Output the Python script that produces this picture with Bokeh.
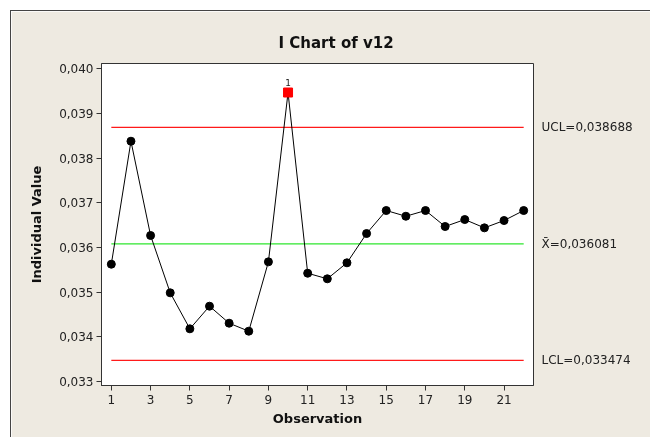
from bokeh.plotting import figure
from bokeh.models import Range1d, FixedTicker, CustomJSTickFormatter, Label, LinearAxis
from bokeh.embed import file_html
from bokeh.resources import INLINE

observations = list(range(1, 23))
values = [0.035626, 0.038380, 0.036269, 0.034985, 0.034179, 0.034686, 0.034305, 0.034126,
          0.035679, 0.039470, 0.035424, 0.035299, 0.035657, 0.036313, 0.036828, 0.036700,
          0.036828, 0.036470, 0.036626, 0.036440, 0.036604, 0.036828]
ucl = 0.038688
center = 0.036081
lcl = 0.033474
limit_names = ["UCL", "X\u0304", "LCL"]
limit_values = [ucl, center, lcl]
x_ticks = [1, 3, 5, 7, 9, 11, 13, 15, 17, 19, 21]
y_ticks = [0.033, 0.034, 0.035, 0.036, 0.037, 0.038, 0.039, 0.040]
title_text = "I Chart of v12"
x_label = "Observation"
y_label = "Individual Value"

FONT = "DejaVu Sans"
BEIGE = "#EEEAE1"

p = figure(width=640, height=427, output_backend="svg", toolbar_location=None,
           x_range=Range1d(0.5, 22.5), y_range=Range1d(0.03291, 0.04012),
           min_border_left=90, min_border_right=118, min_border_top=52, min_border_bottom=53)
p.styles = {"position": "fixed", "left": "10px", "top": "10px",
            "border-left": "1px solid #444444", "border-top": "1px solid #444444"}
p.border_fill_color = BEIGE
p.background_fill_color = "white"
p.outline_line_color = "#333333"
p.outline_line_width = 1
p.xgrid.visible = False
p.ygrid.visible = False

p.title.text = title_text
p.title.align = "left"
p.title.offset = 177
p.title.text_font = FONT
p.title.text_font_size = "15px"
p.title.text_font_style = "bold"
p.title.text_color = "#111111"
p.title.standoff = 24

p.add_layout(LinearAxis(), "right")

for ax in (p.xaxis[0], p.yaxis[0]):
    ax.axis_line_color = "#333333"
    ax.major_tick_line_color = "#333333"
    ax.minor_tick_line_color = None
    ax.major_tick_out = 5
    ax.major_tick_in = 0
    ax.major_label_text_font = FONT
    ax.major_label_text_font_size = "12px"
    ax.major_label_text_color = "#222222"
    ax.axis_label_text_font = FONT
    ax.axis_label_text_font_size = "13px"
    ax.axis_label_text_font_style = "bold"
    ax.axis_label_text_color = "#111111"

p.xaxis[0].ticker = FixedTicker(ticks=x_ticks)
p.yaxis[0].ticker = FixedTicker(ticks=y_ticks)
p.yaxis[0].formatter = CustomJSTickFormatter(code="return tick.toFixed(3).replace('.', ',');")
p.xaxis[0].axis_label = x_label
p.yaxis[0].axis_label = y_label
p.xaxis[0].major_label_standoff = 4
p.yaxis[0].major_label_standoff = 3
p.xaxis[0].axis_label_standoff = 4
p.yaxis[0].axis_label_standoff = 12

# right-hand limit labels
rax = p.yaxis[1]
rax.ticker = FixedTicker(ticks=limit_values)
rax.major_label_overrides = {v: f"{n}={v:.6f}".replace(".", ",") for n, v in zip(limit_names, limit_values)}
rax.axis_line_color = None
rax.major_tick_line_color = None
rax.minor_tick_line_color = None
rax.major_tick_out = 0
rax.major_tick_in = 0
rax.major_label_standoff = 8
rax.major_label_text_font = FONT
rax.major_label_text_font_size = "12px"
rax.major_label_text_color = "#222222"

# control lines
x0, x1 = observations[0], observations[-1]
p.line([x0, x1], [ucl, ucl], line_color="#FF1A1A", line_width=1.3)
p.line([x0, x1], [lcl, lcl], line_color="#FF1A1A", line_width=1.3)
p.line([x0, x1], [center, center], line_color="#2EE62E", line_width=1.3)

# data
p.line(observations, values, line_color="black", line_width=1)
ok_x = [x for x, v in zip(observations, values) if lcl <= v <= ucl]
ok_y = [v for v in values if lcl <= v <= ucl]
bad_x = [x for x, v in zip(observations, values) if not (lcl <= v <= ucl)]
bad_y = [v for v in values if not (lcl <= v <= ucl)]
p.scatter(ok_x, ok_y, marker="circle", size=8, fill_color="black", line_color="black")
p.scatter(bad_x, bad_y, marker="square", size=9, fill_color="#FF0000", line_color="#FF0000")
for bx, by in zip(bad_x, bad_y):
    p.add_layout(Label(x=bx, y=by, text="1", y_offset=7, text_align="center", text_baseline="bottom",
                       text_font=FONT, text_font_size="9px", text_color="#222222"))

open("out.html", "w").write(file_html(p, INLINE))
